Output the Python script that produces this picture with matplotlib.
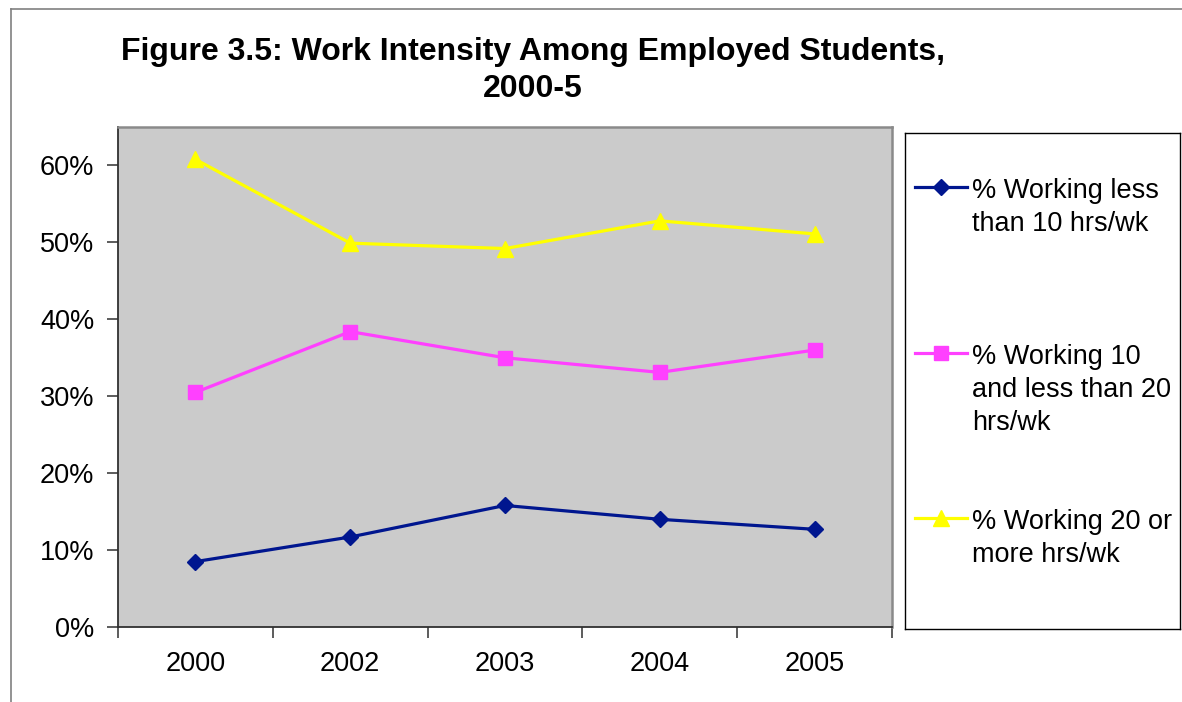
import matplotlib
matplotlib.use("Agg")
import matplotlib.pyplot as plt
from matplotlib.lines import Line2D
from matplotlib.ticker import PercentFormatter

plt.rcParams['font.family'] = ['Liberation Sans', 'DejaVu Sans']

years = ["2000", "2002", "2003", "2004", "2005"]
under_10 = [0.085, 0.117, 0.158, 0.140, 0.127]
from_10_to_20 = [0.305, 0.384, 0.350, 0.331, 0.360]
over_20 = [0.608, 0.499, 0.492, 0.528, 0.511]

labels = ["% Working less\nthan 10 hrs/wk",
          "% Working 10\nand less than 20\nhrs/wk",
          "% Working 20 or\nmore hrs/wk"]
colors = ["#00168f", "#ff40ff", "#ffff00"]
markers = ["D", "s", "^"]
msizes = [8, 10.5, 11.5]

W, H = 1182, 702
fig = plt.figure(figsize=(W / 100, H / 100), dpi=100)

# outer chart frame (left and top edges only)
fig.add_artist(Line2D([11 / W, 11 / W], [0, 1 - 9 / H], transform=fig.transFigure,
                      color="#808080", lw=1.2))
fig.add_artist(Line2D([11 / W, 1], [1 - 9 / H, 1 - 9 / H], transform=fig.transFigure,
                      color="#808080", lw=1.2))

ax = fig.add_axes([118 / W, 75 / H, 774 / W, 500 / H])
ax.set_facecolor("#cbcbcb")

x = range(len(years))
series = [under_10, from_10_to_20, over_20]
for vals, c, m, ms in zip(series, colors, markers, msizes):
    ax.plot(x, vals, color=c, lw=2.3, marker=m, markersize=ms,
            markerfacecolor=c, markeredgecolor=c)

ax.set_xlim(-0.5, len(years) - 0.5)
ax.set_ylim(0, 0.65)
ax.set_yticks([0, 0.1, 0.2, 0.3, 0.4, 0.5, 0.6])
ax.yaxis.set_major_formatter(PercentFormatter(1.0, decimals=0))
ax.set_xticks(list(x))
ax.set_xticklabels(years)
ax.set_xticks([i - 0.5 for i in range(len(years) + 1)], minor=True)
ax.tick_params(axis="x", which="major", length=0, pad=17, labelsize=19.5)
ax.tick_params(axis="x", which="minor", length=8, width=1.1, color="#303030")
ax.tick_params(axis="y", length=8, width=1.1, color="#303030", pad=9, labelsize=19.5)

for side in ["top", "right"]:
    ax.spines[side].set_color("#8a8a8a")
    ax.spines[side].set_linewidth(1.8)
for side in ["left", "bottom"]:
    ax.spines[side].set_color("#303030")
    ax.spines[side].set_linewidth(1.3)

fig.text(533 / W, 1 - 37 / H,
         "Figure 3.5: Work Intensity Among Employed Students,\n2000-5",
         ha="center", va="top", fontsize=23, fontweight="bold", linespacing=1.3)

# legend box on the right
lax = fig.add_axes([905 / W, 73 / H, 275 / W, 496 / H])
lax.set_xlim(0, 1)
lax.set_ylim(0, 1)
lax.set_xticks([])
lax.set_yticks([])
for s in lax.spines.values():
    s.set_color("black")
    s.set_linewidth(1.0)

key_y = [0.891, 0.556, 0.224]
text_y = [0.909, 0.575, 0.242]
for lab, c, m, ms, ky, ty in zip(labels, colors, markers, msizes, key_y, text_y):
    lax.plot([0.036, 0.131, 0.225], [ky, ky, ky], color=c, lw=2.3, marker=m,
             markersize=ms, markevery=[1], markerfacecolor=c, markeredgecolor=c)
    lax.text(0.244, ty, lab, ha="left", va="top", fontsize=19.5, linespacing=1.36)

fig.savefig("out.png", dpi=100)
